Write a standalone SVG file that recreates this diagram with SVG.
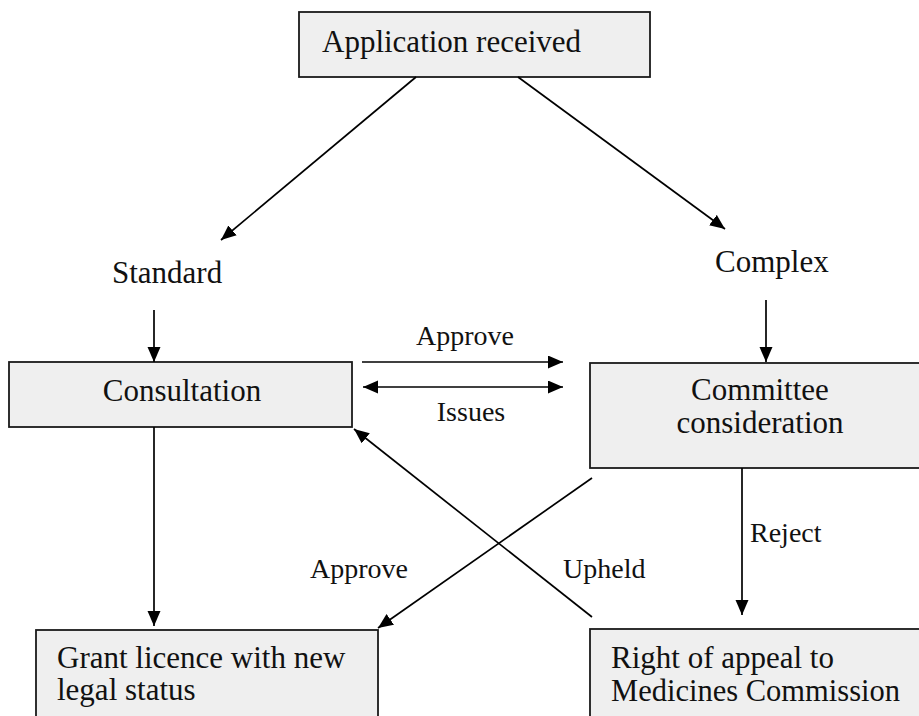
<svg xmlns="http://www.w3.org/2000/svg" width="919" height="716" viewBox="0 0 919 716">
<style>
  .box { fill: #efefef; stroke: #1a1a1a; stroke-width: 1.8; }
  .t { font-family: "Liberation Serif", "Times New Roman", serif; font-size: 31px; fill: #111; }
  .l { font-family: "Liberation Serif", "Times New Roman", serif; font-size: 28px; fill: #111; }
  .c { text-anchor: middle; }
  .e { stroke: #000; stroke-width: 1.7; fill: none; marker-end: url(#ah); }
</style>
<defs>
  <marker id="ah" markerUnits="userSpaceOnUse" markerWidth="16" markerHeight="14" refX="15" refY="6.5" orient="auto-start-reverse">
    <path d="M0,0 L15,6.5 L0,13 z" fill="#000"/>
  </marker>
</defs>
<rect width="919" height="716" fill="#fff"/>
<g id="n-application">
  <rect class="box" x="299" y="12" width="351" height="65"/>
  <text class="t" x="322" y="52">Application received</text>
</g>
<g id="n-standard">
  <text class="t" x="112" y="283">Standard</text>
</g>
<g id="n-complex">
  <text class="t" x="715" y="272">Complex</text>
</g>
<g id="n-consultation">
  <rect class="box" x="9" y="362" width="343" height="65"/>
  <text class="t c" x="182" y="401">Consultation</text>
</g>
<g id="n-committee">
  <rect class="box" x="590" y="363" width="340" height="105"/>
  <text class="t c" x="760" y="400">Committee</text>
  <text class="t c" x="760" y="433">consideration</text>
</g>
<g id="n-grant">
  <rect class="box" x="36" y="630" width="342" height="100"/>
  <text class="t" x="57" y="668">Grant licence with new</text>
  <text class="t" x="57" y="700">legal status</text>
</g>
<g id="n-appeal">
  <rect class="box" x="590" y="629" width="340" height="100"/>
  <text class="t" x="611" y="668">Right of appeal to</text>
  <text class="t" x="611" y="701" textLength="289" lengthAdjust="spacingAndGlyphs">Medicines Commission</text>
</g>
<g id="connectors">
  <line class="e" x1="416" y1="77" x2="221" y2="240"/>
  <line class="e" x1="518" y1="77" x2="725" y2="229"/>
  <line class="e" x1="154" y1="310" x2="154" y2="362"/>
  <line class="e" x1="766" y1="300" x2="766" y2="362"/>
  <line class="e" x1="362" y1="362" x2="563" y2="362"/>
  <line class="e" x1="363" y1="387" x2="563" y2="387" marker-start="url(#ah)"/>
  <line class="e" x1="154" y1="427" x2="154" y2="626"/>
  <line class="e" x1="742" y1="468" x2="742" y2="615"/>
  <line class="e" x1="592" y1="478" x2="378" y2="628"/>
  <line class="e" x1="592" y1="617" x2="354" y2="429"/>
  <text class="l c" x="465" y="345">Approve</text>
  <text class="l c" x="471" y="421">Issues</text>
  <text class="l" x="750" y="542">Reject</text>
  <text class="l" x="563" y="578">Upheld</text>
  <text class="l" x="310" y="578">Approve</text>
</g>
</svg>
